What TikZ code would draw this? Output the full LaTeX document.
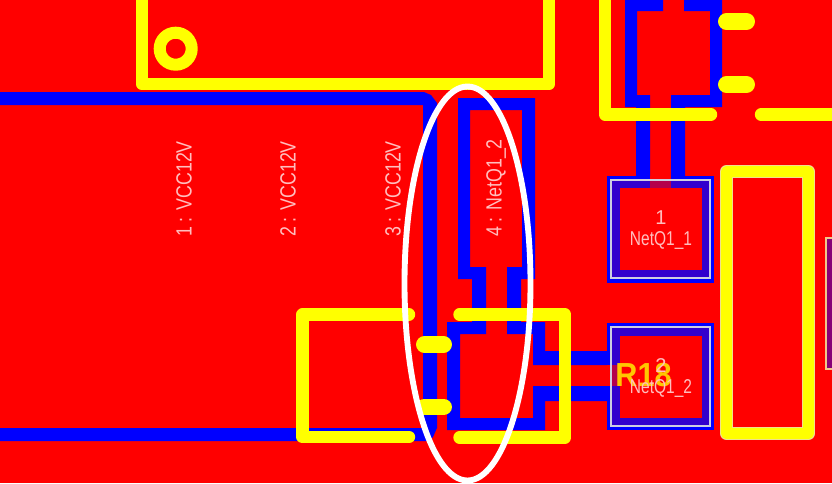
\documentclass[tikz,border=0pt]{standalone}
\usepackage{fontspec}
\setmainfont{Liberation Sans}
\definecolor{pcbred}{RGB}{255,0,0}
\definecolor{pcbblue}{RGB}{0,0,255}
\definecolor{pcbyellow}{RGB}{255,255,0}
\definecolor{dither}{RGB}{50,0,205}
\definecolor{ditherhalf}{RGB}{135,0,120}
\definecolor{ditherred}{RGB}{180,0,75}
\definecolor{silk}{RGB}{255,190,190}
\definecolor{outline}{RGB}{205,205,225}
\definecolor{paleyellow}{RGB}{240,225,140}
\definecolor{peach}{RGB}{240,200,140}
\tikzset{
  cu/.style={fill=pcbblue,draw=none},
  ylw/.style={draw=pcbyellow,line width=9.3pt,line cap=round,line join=round},
  blob/.style={draw=pcbyellow,line width=12.7pt,line cap=round},
  padtext/.style={text=silk,font=\fontsize{15pt}{17pt}\selectfont,inner sep=0pt},
  netlabel/.style={text=silk,rotate=90,inner sep=0pt,anchor=center,font=\fontsize{16.5pt}{18pt}\selectfont},
  padring/.style={draw=outline,line width=1.2pt,fill=none}
}
\newcommand{\narrowrot}[1]{\scalebox{0.81}[1]{#1}}
\newcommand{\narrowpad}[1]{\scalebox{0.775}[1]{#1}}
\begin{document}
\begin{tikzpicture}[x=0.75pt,y=-0.75pt]
\useasboundingbox (0,0) rectangle (832,483);
\fill[pcbred] (0,0) rectangle (832,483);
% blue copper
\fill[cu] (0,92) -- (424,92) -- (431,95) -- (437,103) -- (437,428) -- (433,437) -- (429,441) -- (0,441) -- (0,428) -- (423,428) -- (423,105) -- (0,105) -- cycle;
\fill[cu] (458,98) -- (535,98) -- (535,279) -- (521,279) -- (521,322) -- (545,322) -- (545,351) -- (607,351) -- (607,365) -- (533,365) -- (533,334) -- (507,334) -- (507,267) -- (522,267) -- (522,110) -- (470,110) -- (470,267) -- (486,267) -- (486,334) -- (460,334) -- (460,418) -- (533,418) -- (533,386) -- (607,386) -- (607,401) -- (545,401) -- (545,430) -- (447,430) -- (447,322) -- (472,322) -- (472,279) -- (458,279) -- cycle;
\fill[cu] (625,0) -- (663,0) -- (663,11) -- (637,11) -- (637,95) -- (650,95) -- (650,176) -- (636,176) -- (636,107) -- (625,107) -- cycle;
\fill[cu] (684,0) -- (722,0) -- (722,107) -- (685,107) -- (685,176) -- (671,176) -- (671,95) -- (710,95) -- (710,11) -- (684,11) -- cycle;
% pads
\fill[cu] (607,176) rectangle (714,283);
\fill[dither] (611,180) rectangle (710,279);
\fill[pcbred] (620,188) rectangle (702,270);
\fill[pcbred] (650,176) rectangle (671,180);
\fill[ditherred] (650,181) rectangle (671,188);
\draw[padring] (611,180) rectangle (710,278);
\fill[cu] (607,323) rectangle (714,430);
\fill[dither] (611,327) rectangle (710,426);
\fill[pcbred] (620,336) rectangle (702,418);
\fill[pcbred] (607,365) rectangle (611,386);
\fill[ditherred] (612,365) rectangle (620,386);
\draw[padring] (611,327) rectangle (710,426);
% far right pad
\fill[ditherhalf] (826,238) rectangle (832,369);
\draw[draw=peach,line width=1.5pt] (834,238) -- (826,238) -- (826,369) -- (834,369);
% yellow
\draw[ylw] (142,-10) -- (142,84) -- (549,84) -- (549,-10);
\draw[draw=pcbyellow,line width=9pt] (175.7,48.7) circle[radius=16];
\draw[ylw] (605,-10) -- (605,114.5) -- (711,114.5);
\draw[ylw] (761,114.5) -- (845,114.5);
\draw[blob] (726.5,21.5) -- (746.5,21.5);
\draw[blob] (726.5,84.5) -- (746.5,84.5);
\draw[draw=paleyellow,line width=9.75pt,line join=round] (726.5,171.5) rectangle (808.5,433.3);
\draw[draw=pcbyellow,line width=7.9pt,line join=round] (726.5,171.5) rectangle (808.5,433.3);
\draw[ylw] (409,314.5) -- (302.5,314.5) -- (302.5,437) -- (409,437);
\draw[ylw] (459.5,314.5) -- (565,314.5) -- (565,437.5) -- (459.5,437.5);
\draw[blob] (424.5,344.5) -- (443.5,344.5);
\draw[blob] (424.5,407) -- (443.5,407);
% silk text
\node[netlabel] (n1) at (184,189) {\narrowrot{1 : VCC12V}};
\node[netlabel] (n2) at (288,189) {\narrowrot{2 : VCC12V}};
\node[netlabel] (n3) at (393,189) {\narrowrot{3 : VCC12V}};
\node[netlabel] (n4) at (496,188) {\narrowrot{4 : NetQ1\_2}};
\node[padtext] (p1) at (661,218) {1};
\node[padtext] (p1n) at (661,240) {\narrowpad{NetQ1\_1}};
\node[inner sep=0pt,text=pcbyellow!78!pcbred,font=\bfseries\fontsize{25pt}{27pt}\selectfont] (r18) at (643.5,375) {\scalebox{0.92}[1]{R18}};
\node[padtext] (p2) at (661,366) {2};
\node[padtext] (p2n) at (661,388) {\narrowpad{NetQ1\_2}};
% ellipse
\draw[white,line width=4.4pt] (467.5,283.5) ellipse[x radius=63,y radius=197];
\end{tikzpicture}
\end{document}
